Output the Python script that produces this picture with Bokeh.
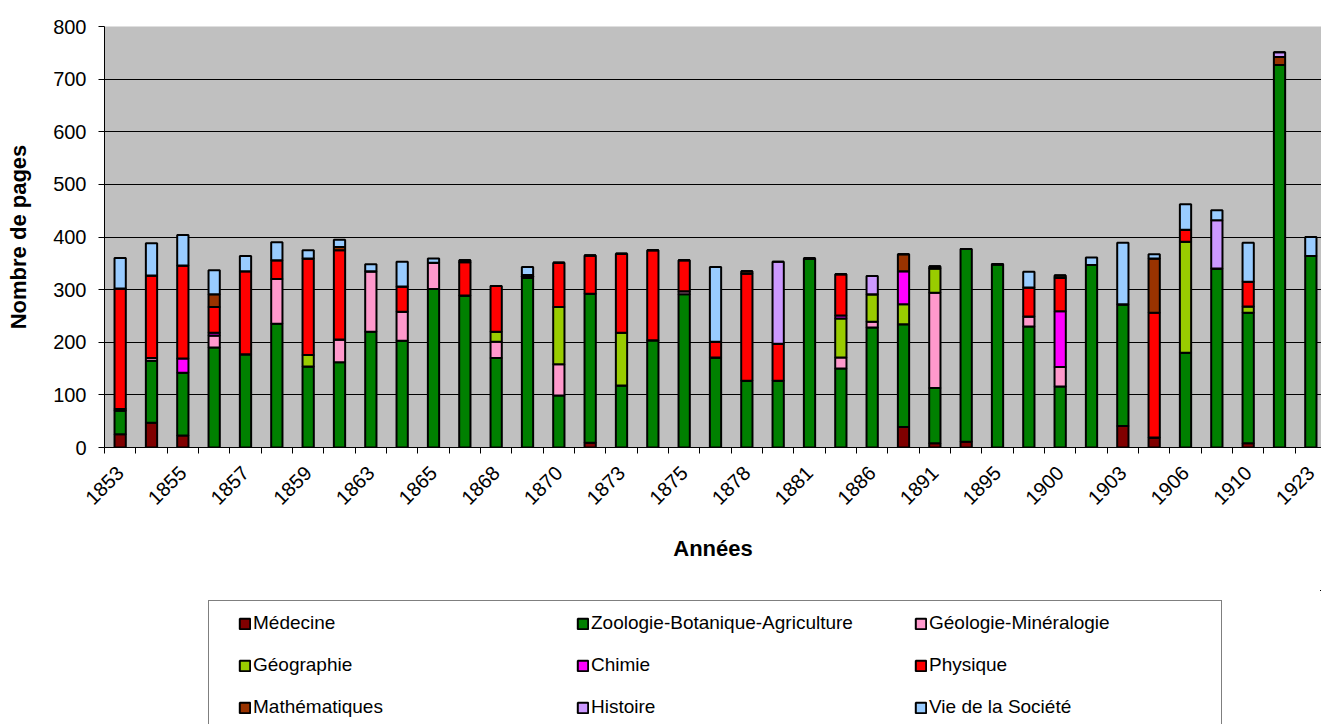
from math import pi
from bokeh.plotting import figure
from bokeh.layouts import column
from bokeh.models import (ColumnDataSource, Range1d, FixedTicker, SingleIntervalTicker,
                          Legend, LegendItem)
from bokeh.embed import file_html
from bokeh.resources import INLINE

# ---------------- data ----------------
years = [1853, 1854, 1855, 1856, 1857, 1858, 1859, 1861, 1863, 1864,
         1865, 1867, 1868, 1869, 1870, 1872, 1873, 1874, 1875, 1877,
         1878, 1880, 1881, 1885, 1886, 1889, 1891, 1893, 1895, 1898,
         1900, 1902, 1903, 1905, 1906, 1908, 1910, 1912, 1923]

medecine     = [25, 47, 23, 0, 0, 0, 0, 0, 0, 0,
                0, 0, 0, 0, 0, 9, 0, 0, 0, 0,
                0, 0, 0, 0, 0, 39, 8, 11, 0, 0,
                0, 0, 41, 19, 0, 0, 8, 0, 0]
zoologie     = [45, 118, 119, 190, 177, 235, 154, 162, 220, 203,
                301, 289, 170, 322, 99, 283, 118, 204, 291, 171,
                127, 127, 359, 150, 228, 195, 105, 366, 348, 230,
                116, 347, 231, 0, 180, 340, 248, 727, 364]
geologie     = [3, 5, 0, 23, 0, 85, 0, 43, 115, 55,
                50, 0, 31, 0, 59, 0, 0, 0, 6, 0,
                0, 0, 0, 21, 11, 0, 181, 0, 0, 19,
                37, 0, 0, 0, 0, 0, 0, 0, 0]
geographie   = [0, 0, 0, 0, 0, 0, 22, 0, 0, 0,
                0, 0, 19, 0, 109, 0, 100, 0, 0, 0,
                0, 0, 0, 74, 52, 38, 46, 0, 0, 0,
                0, 0, 0, 0, 211, 0, 12, 0, 0]
chimie       = [0, 0, 27, 5, 0, 0, 0, 0, 0, 0,
                0, 0, 0, 0, 0, 0, 0, 0, 0, 0,
                0, 0, 0, 6, 0, 63, 0, 0, 0, 0,
                106, 0, 0, 0, 0, 0, 0, 0, 0]
physique     = [229, 157, 177, 49, 158, 36, 183, 170, 0, 48,
                0, 63, 87, 0, 84, 73, 150, 171, 59, 30,
                203, 70, 0, 78, 0, 0, 4, 0, 0, 55,
                63, 0, 0, 237, 23, 0, 47, 0, 0]
mathematiques = [0, 0, 0, 24, 0, 0, 0, 6, 0, 0,
                 0, 4, 0, 3, 0, 0, 0, 0, 0, 0,
                 5, 0, 0, 0, 0, 32, 0, 0, 0, 0,
                 5, 0, 0, 103, 0, 0, 0, 15, 0]
histoire     = [0, 0, 0, 0, 0, 0, 0, 0, 0, 0,
                0, 0, 0, 3, 0, 0, 0, 0, 0, 0,
                0, 156, 0, 0, 35, 0, 0, 0, 0, 0,
                0, 0, 0, 0, 0, 92, 0, 9, 0]
vie_societe  = [58, 61, 58, 46, 29, 34, 16, 14, 13, 47,
                8, 0, 0, 15, 0, 0, 0, 0, 0, 142,
                0, 0, 0, 0, 0, 0, 0, 0, 0, 30,
                0, 14, 117, 8, 48, 19, 74, 0, 36]

series_names = ["Médecine", "Zoologie-Botanique-Agriculture", "Géologie-Minéralogie",
                "Géographie", "Chimie", "Physique",
                "Mathématiques", "Histoire", "Vie de la Société"]
series_values = [medecine, zoologie, geologie, geographie, chimie, physique,
                 mathematiques, histoire, vie_societe]
colors = ["#800000", "#008000", "#FF99CC", "#99CC00", "#FF00FF", "#FF0000",
          "#993300", "#CC99FF", "#99CCFF"]

FONT = "Liberation Sans"
W = 1321
H_MAIN = 590
H_LEG = 134

# ---------------- main chart ----------------
xpos = list(range(len(years)))
keys = [f"s{i}" for i in range(len(series_names))]
data = {"x": xpos}
for k, v in zip(keys, series_values):
    data[k] = v
source = ColumnDataSource(data)

p = figure(width=W, height=H_MAIN, output_backend="svg", toolbar_location=None,
           x_range=Range1d(-0.5, 38.34), y_range=Range1d(0, 800),
           min_border_left=104, min_border_right=0, min_border_top=26,
           min_border_bottom=143)
p.background_fill_color = "#C0C0C0"
p.border_fill_color = "white"
p.outline_line_color = None

renderers = p.vbar_stack(keys, x="x", width=0.36, source=source,
                         fill_color=colors, line_color="black", line_width=2)

p.yaxis.ticker = SingleIntervalTicker(interval=100)
p.ygrid.ticker = SingleIntervalTicker(interval=100)
p.ygrid.grid_line_color = "black"
p.ygrid.grid_line_width = 1
p.xgrid.visible = False
p.yaxis.minor_tick_line_color = None
p.yaxis.major_tick_out = 6
p.yaxis.major_tick_in = 0
p.yaxis.major_label_standoff = 12
p.yaxis.axis_line_color = "black"
p.yaxis.major_tick_line_color = "black"
p.yaxis.major_label_text_font = FONT
p.yaxis.major_label_text_font_size = "20px"
p.yaxis.major_label_text_color = "black"
p.yaxis.axis_label = "Nombre de pages"
p.yaxis.axis_label_text_font = FONT
p.yaxis.axis_label_text_font_style = "bold"
p.yaxis.axis_label_text_font_size = "22px"
p.yaxis.axis_label_text_color = "black"
p.yaxis.axis_label_standoff = 19

p.xaxis.ticker = FixedTicker(ticks=xpos[::2],
                             minor_ticks=[i - 0.5 for i in range(len(years) + 1)])
p.xaxis.major_label_overrides = {i: str(years[i]) for i in xpos[::2]}
p.xaxis.major_tick_line_color = None
p.xaxis.major_tick_out = 6
p.xaxis.major_tick_in = 0
p.xaxis.minor_tick_line_color = "black"
p.xaxis.minor_tick_out = 6
p.xaxis.minor_tick_in = 0
p.xaxis.axis_line_color = "black"
p.xaxis.major_label_orientation = pi / 4
p.xaxis.major_label_standoff = 16
p.xaxis.major_label_text_font = FONT
p.xaxis.major_label_text_font_size = "20px"
p.xaxis.major_label_text_color = "black"
p.xaxis.axis_label = "Années"
p.xaxis.axis_label_text_font = FONT
p.xaxis.axis_label_text_font_style = "bold"
p.xaxis.axis_label_text_font_size = "22px"
p.xaxis.axis_label_text_color = "black"
p.xaxis.axis_label_standoff = 22

# ---------------- legend panel ----------------
# ranges far away from the data so the helper renderers show only in the legend
q = figure(width=W, height=H_LEG, output_backend="svg", toolbar_location=None,
           x_range=Range1d(-1000, -999), y_range=Range1d(-1000, -999),
           x_axis_type=None, y_axis_type=None,
           min_border_left=0, min_border_right=0, min_border_top=0, min_border_bottom=0)
q.outline_line_color = None
q.background_fill_color = "white"
q.border_fill_color = "white"
q.grid.visible = False

leg_renderers = [q.vbar(x="x", top=k, width=0.36, source=source, fill_color=c,
                        line_color="black", line_width=2)
                 for k, c in zip(keys, colors)]

# the column layout aligns q's frame with p's frame (left edge at 104 px)
FRAME_LEFT = 104
box = Legend(items=[LegendItem(label=" ", renderers=[])], location=(208 - FRAME_LEFT, -6),
             padding=0, margin=0, spacing=0, glyph_width=10, glyph_height=10,
             label_standoff=0, label_width=1002, label_height=128,
             border_line_color="black", border_line_width=1,
             background_fill_color="white", background_fill_alpha=1.0)
q.add_layout(box, "center")

col_x = [238, 576, 914]
for c in range(3):
    items = [LegendItem(label=series_names[c + 3 * r], renderers=[leg_renderers[c + 3 * r]])
             for r in range(3)]
    lg = Legend(items=items, location=(col_x[c] - FRAME_LEFT, 5), padding=0, margin=0,
                spacing=18, glyph_width=13, glyph_height=13, label_standoff=2,
                label_height=24, label_width=300,
                border_line_color=None, background_fill_alpha=0.0,
                label_text_font=FONT, label_text_font_size="19px",
                label_text_color="black")
    q.add_layout(lg, "center")

layout = column(p, q, spacing=0)
open("out.html", "w").write(file_html(layout, INLINE))
